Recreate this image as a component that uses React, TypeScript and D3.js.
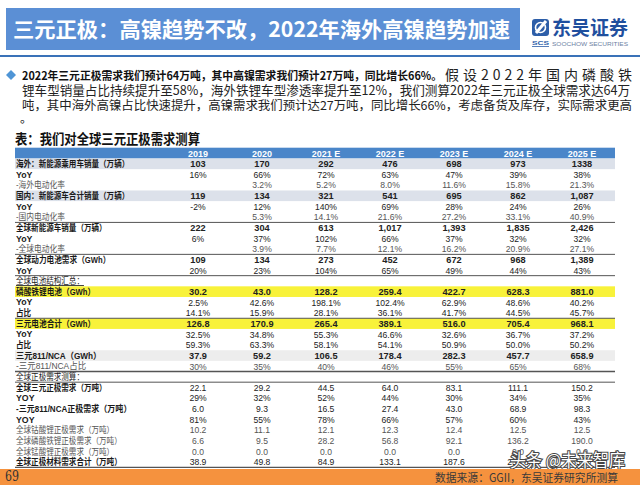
import React from 'react';
import * as d3 from 'd3';

const FONT = '"Noto Sans CJK SC", "Noto Sans", sans-serif';
const NUMFONT = '"Liberation Sans", Arial, sans-serif';
const LABFONT = '"Liberation Sans", "Noto Sans CJK SC", sans-serif';

const titleText = '三元正极：高镍趋势不改，2022年海外高镍趋势加速';
const bulletBold = '2022年三元正极需求我们预计64万吨，其中高镍需求我们预计27万吨，同比增长66%。';
const bulletLines = [
  '假设2022年国内磷酸铁',
  '锂车型销量占比持续提升至58%，海外铁锂车型渗透率提升至12%，我们测算2022年三元正极全球需求达64万',
  '吨，其中海外高镍占比快速提升，高镍需求我们预计达27万吨，同比增长66%，考虑备货及库存，实际需求更高',
  '。',
];
const tableTitle = '表：我们对全球三元正极需求测算';
const sourceText = '数据来源：GGII，东吴证券研究所测算';
const pageNo = '69';
const watermark = '头条 @未来智库';

const years = ['2019', '2020', '2021 E', '2022 E', '2023 E', '2024 E', '2025 E'];

const rowLabels = [
  '海外：新能源乘用车销量（万辆）', 'YoY', '-海外电动化率',
  '国内：新能源车合计销量（万辆）', 'YoY', '-国内电动化率',
  '全球新能源车销量（万辆）', 'YoY', '-全球电动化率',
  '全球动力电池需求（GWh）', 'YoY', '全球电池结构汇总：',
  '磷酸铁锂电池（GWh）', 'YoY', '占比',
  '三元电池合计（GWh）', 'YoY', '占比',
  '三元811/NCA（GWh）', '-三元811/NCA占比', '全球正极需求测算：',
  '全球三元正极需求（万吨）', 'YOY', '-三元811/NCA正极需求（万吨）', 'YOY',
  '全球钴酸锂正极需求（万吨）', '全球磷酸铁锂正极需求（万吨）', '全球锰酸锂正极需求（万吨）',
  '全球正极材料需求合计（万吨）',
];

const overseasSales = ['103', '170', '292', '476', '698', '973', '1338'];
const overseasYoY = ['16%', '66%', '72%', '63%', '47%', '39%', '38%'];
const overseasPen = ['', '3.2%', '5.2%', '8.0%', '11.6%', '15.8%', '21.3%'];
const domesticSales = ['119', '134', '321', '541', '695', '862', '1,087'];
const domesticYoY = ['-2%', '12%', '140%', '69%', '28%', '24%', '26%'];
const domesticPen = ['', '5.3%', '14.1%', '21.6%', '27.2%', '33.1%', '40.9%'];
const globalSales = ['222', '304', '613', '1,017', '1,393', '1,835', '2,426'];
const globalYoY = ['6%', '37%', '102%', '66%', '37%', '32%', '32%'];
const globalPen = ['', '3.9%', '7.7%', '12.1%', '16.2%', '20.9%', '27.1%'];
const batteryDemand = ['109', '134', '273', '452', '672', '968', '1,389'];
const batteryYoY = ['20%', '23%', '104%', '65%', '49%', '44%', '43%'];
const lfpBattery = ['30.2', '43.0', '128.2', '259.4', '422.7', '628.3', '881.0'];
const lfpYoY = ['2.5%', '42.6%', '198.1%', '102.4%', '62.9%', '48.6%', '40.2%'];
const lfpShare = ['14.1%', '15.9%', '28.1%', '36.1%', '41.7%', '44.5%', '45.7%'];
const nmcBattery = ['126.8', '170.9', '265.4', '389.1', '516.0', '705.4', '968.1'];
const nmcYoY = ['32.5%', '34.8%', '55.3%', '46.6%', '32.6%', '36.7%', '37.2%'];
const nmcShare = ['59.3%', '63.3%', '58.1%', '54.1%', '50.9%', '50.0%', '50.2%'];
const ni811Battery = ['37.9', '59.2', '106.5', '178.4', '282.3', '457.7', '658.9'];
const ni811Share = ['30%', '35%', '40%', '46%', '55%', '65%', '68%'];
const nmcCathode = ['22.1', '29.2', '44.5', '64.0', '83.1', '111.1', '150.2'];
const nmcCathodeYoY = ['29%', '32%', '52%', '44%', '30%', '34%', '35%'];
const ni811Cathode = ['6.0', '9.3', '16.5', '27.4', '43.0', '68.9', '98.3'];
const ni811CathodeYoY = ['81%', '55%', '78%', '66%', '57%', '60%', '43%'];
const lcoCathode = ['10.2', '11.1', '12.1', '12.3', '12.4', '12.5', '12.5'];
const lfpCathode = ['6.6', '9.5', '28.2', '56.8', '92.1', '136.2', '190.0'];
const lmoCathode = ['0.0', '0.0', '0.0', '0.0', '0.0', '0.0', '0.0'];
const totalCathode = ['38.9', '49.8', '84.9', '133.1', '187.6', '259.8', '352.7'];

const empty: string[] = [];
const rowValues = [
  overseasSales, overseasYoY, overseasPen,
  domesticSales, domesticYoY, domesticPen,
  globalSales, globalYoY, globalPen,
  batteryDemand, batteryYoY, empty,
  lfpBattery, lfpYoY, lfpShare,
  nmcBattery, nmcYoY, nmcShare,
  ni811Battery, ni811Share, empty,
  nmcCathode, nmcCathodeYoY, ni811Cathode, ni811CathodeYoY,
  lcoCathode, lfpCathode, lmoCathode, totalCathode,
];

// styling per row (not data)
type Kind = 'main' | 'yoy' | 'sub' | 'section' | 'mid';
const kinds: Kind[] = [
  'main', 'yoy', 'sub',
  'main', 'yoy', 'sub',
  'main', 'yoy', 'sub',
  'main', 'yoy', 'section',
  'main', 'yoy', 'yoy',
  'main', 'yoy', 'yoy',
  'main', 'sub', 'section',
  'mid', 'yoy', 'mid', 'yoy',
  'sub', 'sub', 'sub', 'mid',
];
const bgs: Record<number, string> = { 0: '#dce1ea', 3: '#dce1ea', 12: '#f8f23a', 15: '#f8f23a', 18: '#ededed' };
const linesBelow = [5, 8, 10, 14, 19, 20, 28];

const TX0 = 15;
const TX1 = 615;

const colScale = d3.scaleBand<string>().domain(years).range([166, 614]);
const rowScale = d3.scaleBand<number>().domain(d3.range(rowLabels.length)).range([158.5, 467.4]);

// estimated rendered width of a table label (CJK glyphs condensed as in the slide)
function labelWidth(s: string): number {
  let w = 0;
  for (const ch of s) {
    const c = ch.charCodeAt(0);
    if (c > 0x2e80) w += 7.55;
    else if (ch === '-' || ch === '/') w += 3.6;
    else if (ch === 'W') w += 8;
    else if (/[A-Z]/.test(ch)) w += 5.9;
    else if (/[0-9]/.test(ch)) w += 5.0;
    else w += 4.9;
  }
  return w;
}
const hasCJK = (s: string) => Array.from(s).some((ch) => ch.charCodeAt(0) > 0x2e80);

function Txt(props: { x: number; y: number; s: string; size: number; len?: number; weight?: string | number; fill?: string; family?: string; anchor?: string; adj?: string; deco?: string }) {
  const { x, y, s, size, len, weight = 'normal', fill = '#222', family = FONT, anchor = 'start', adj = 'spacingAndGlyphs', deco } = props;
  return (
    <text x={x} y={y} fontSize={size} fontWeight={weight} fill={fill} fontFamily={family}
      textLength={len} lengthAdjust={len ? adj : undefined} textAnchor={anchor} textDecoration={deco}>
      {s}
    </text>
  );
}

export default function App() {
  const rh = rowScale.bandwidth();
  const cx = (j: number) => (colScale(years[j]) as number) + colScale.bandwidth() / 2;
  return (
    <svg width={640} height={485} style={{ position: 'absolute', left: 0, top: 0, background: '#fff' }}>
      <rect x={0} y={0} width={640} height={485} fill="#fff" />
      {/* title bar */}
      <rect x={6} y={8} width={514} height={42} fill="#5b8fd5" />
      <Txt x={13} y={37} s={titleText} size={21} len={497} weight="bold" fill="#fff" />
      <line x1={0} x2={640} y1={56} y2={56} stroke="#3a72b8" strokeWidth={2} />
      {/* logo */}
      <g>
        <rect x={532} y={19} width={17} height={17} rx={3} fill="#2d5ea8" />
        <path d="M536,33 L546,21" stroke="#fff" strokeWidth={3} />
        <circle cx={540.5} cy={27.5} r={5} fill="none" stroke="#fff" strokeWidth={1.6} />
        <Txt x={532} y={45} s="SCS" size={6} len={17} weight="bold" fill="#2d5ea8" family={NUMFONT} />
        <line x1={532} x2={549} y1={46.5} y2={46.5} stroke="#2d5ea8" strokeWidth={0.8} />
        <Txt x={552} y={35} s="东吴证券" size={19} len={76} weight="bold" fill="#1f4f9e" />
        <Txt x={552} y={46} s="SOOCHOW SECURITIES" size={6} len={76} fill="#6d7fa3" family={NUMFONT} />
      </g>
      {/* bullet */}
      <path d="M11,70 L16,75 L11,80 L6,75 Z" fill="#4f95d6" />
      <Txt x={22} y={80} s={bulletBold} size={11.5} len={420} weight="bold" fill="#111" />
      <Txt x={445} y={80} s={bulletLines[0]} size={14} len={187} adj="spacing" fill="#222" />
      <Txt x={22} y={95} s={bulletLines[1]} size={12.6} len={608} fill="#222" />
      <Txt x={22} y={110} s={bulletLines[2]} size={12.4} len={610} fill="#222" />
      <Txt x={20} y={123} s={bulletLines[3]} size={12} fill="#222" />
      {/* table title */}
      <Txt x={15} y={143.5} s={tableTitle} size={14} len={185} weight="bold" fill="#111" />
      {/* header */}
      <rect x={TX0} y={147.7} width={TX1 - TX0} height={158.5 - 147.7} fill="#4a86c9" />
      {years.map((yr, j) => (
        <Txt key={yr} x={cx(j)} y={156.6} s={yr} size={9} weight="bold" fill="#fff" anchor="middle" family={NUMFONT} />
      ))}
      {/* rows */}
      {rowLabels.map((lab, i) => {
        const y0 = rowScale(i) as number;
        const cy = y0 + rh / 2;
        const k = kinds[i];
        const bg = bgs[i];
        const labelBold = k === 'main' || k === 'yoy' || k === 'mid';
        const labelFill = k === 'sub' ? '#555' : '#1a1a1a';
        const valBold = k === 'main';
        const valFill = k === 'sub' ? '#555' : '#222';
        const valSize = k === 'main' ? 9.2 : 8.6;
        return (
          <g key={i}>
            {bg && <rect x={TX0} y={y0} width={TX1 - TX0} height={rh} fill={bg} />}
            <Txt x={16} y={cy + 3.2} s={lab} size={8.8} len={hasCJK(lab) ? labelWidth(lab) : undefined}
              weight={labelBold ? 'bold' : 'normal'} fill={labelFill} family={LABFONT}
              deco={i === 11 ? 'underline' : undefined} />
            {rowValues[i].map((v, j) => v ? (
              <Txt key={j} x={cx(j)} y={cy + 3.3} s={v} size={valSize} family={NUMFONT}
                weight={valBold ? 'bold' : 'normal'} fill={valFill} anchor="middle" />
            ) : null)}
          </g>
        );
      })}
      {linesBelow.map((i) => {
        const yy = (rowScale(i) as number) + rh;
        return <line key={i} x1={TX0} x2={TX1} y1={yy} y2={yy} stroke="#555" strokeWidth={i === 19 || i === 28 ? 1.4 : 1} />;
      })}
      {/* watermark */}
      <text x={510} y={467} fontSize={18} fill="#fff" stroke="#444" strokeWidth={2.2} paintOrder="stroke"
        fontFamily={FONT} textLength={115} lengthAdjust="spacingAndGlyphs">{watermark}</text>
      {/* footer */}
      <rect x={0} y={469} width={640} height={16} fill="#f5923e" />
      <Txt x={5} y={481} s={pageNo} size={14} len={14} fill="#333" family='"DejaVu Serif", serif' />
      <Txt x={435} y={482} s={sourceText} size={11.5} len={183} fill="#3a3a3a" />
    </svg>
  );
}
